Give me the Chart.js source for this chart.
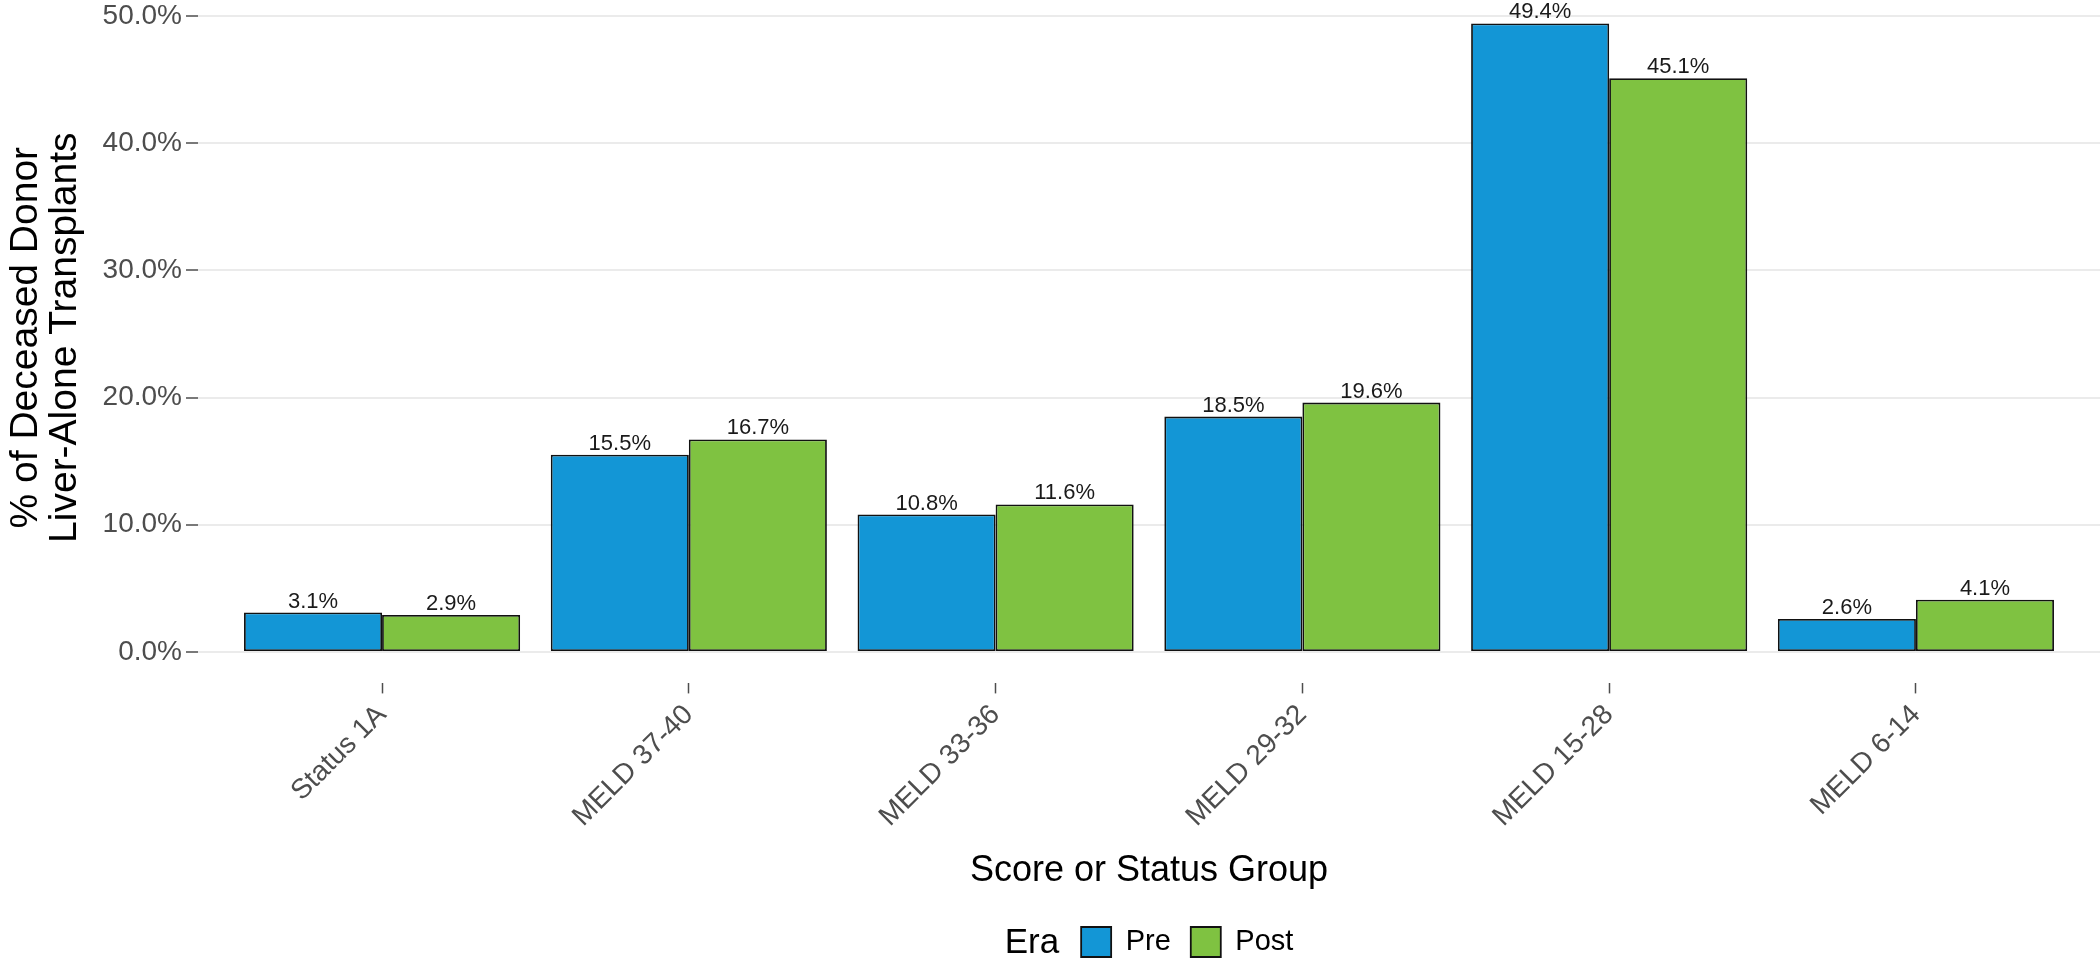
<!DOCTYPE html>
<html>
<head>
<meta charset="utf-8">
<script src="https://cdn.jsdelivr.net/npm/chart.js@4.4.1/dist/chart.umd.min.js"></script>
<style>
  html, body { margin: 0; padding: 0; background: #fff; }
  .wrap { width: 2100px; height: 965px; overflow: hidden; position: relative; }
  #chart { position: absolute; left: 0; top: -35px; }
</style>
</head>
<body>
<div class="wrap"><canvas id="chart" width="2100" height="1010"></canvas></div>
<script>
const categories = ["Status 1A", "MELD 37-40", "MELD 33-36", "MELD 29-32", "MELD 15-28", "MELD 6-14"];
const preValues = [3.1, 15.5, 10.8, 18.5, 49.4, 2.6];
const postValues = [2.9, 16.7, 11.6, 19.6, 45.1, 4.1];
const yTicks = [0, 10, 20, 30, 40, 50];
const seriesNames = ["Pre", "Post"];
const legendTitle = "Era";

const FONT = '"Liberation Sans", Arial, sans-serif';
Chart.defaults.font.family = FONT;

// value labels above each bar
const barLabels = {
  id: "barLabels",
  afterDatasetsDraw(chart) {
    const ctx = chart.ctx;
    ctx.save();
    ctx.font = "22px " + FONT;
    ctx.fillStyle = "#1a1a1a";
    ctx.textAlign = "center";
    ctx.textBaseline = "alphabetic";
    chart.data.datasets.forEach((ds, di) => {
      chart.getDatasetMeta(di).data.forEach((bar, i) => {
        ctx.fillText(ds.data[i].y.toFixed(1) + "%", bar.x, bar.y - 5);
      });
    });
    ctx.restore();
  }
};

// "Era" title drawn inline to the left of the legend items
const eraTitle = {
  id: "eraTitle",
  afterLayout(chart) {
    const ctx = chart.ctx;
    ctx.save();
    ctx.font = "35px " + FONT;
    const w = ctx.measureText(legendTitle).width;
    ctx.restore();
    const shift = (w + 22) / 2;
    chart.legend.left += shift;
    chart.legend.right += shift;
  },
  afterDraw(chart) {
    const box = chart.legend.legendHitBoxes[0];
    if (!box) return;
    const ctx = chart.ctx;
    ctx.save();
    ctx.font = "35px " + FONT;
    ctx.fillStyle = "#000";
    ctx.textAlign = "right";
    ctx.textBaseline = "middle";
    ctx.fillText(legendTitle, box.left - 22, box.top + box.height / 2 + 1);
    ctx.restore();
  }
};

new Chart(document.getElementById("chart"), {
  type: "bar",
  data: {
    datasets: [
      {
        label: seriesNames[0],
        data: categories.map((c, i) => ({ x: i, y: preValues[i] })),
        backgroundColor: "#1396d6",
        borderColor: "#111",
        borderWidth: 1.8,
        borderSkipped: false
      },
      {
        label: seriesNames[1],
        data: categories.map((c, i) => ({ x: i, y: postValues[i] })),
        backgroundColor: "#7fc241",
        borderColor: "#111",
        borderWidth: 1.8,
        borderSkipped: false
      }
    ]
  },
  options: {
    responsive: false,
    animation: false,
    categoryPercentage: 0.9,
    barPercentage: 1.0,
    layout: { padding: { top: 27, right: 0, bottom: 8, left: 0 } },
    plugins: {
      tooltip: { enabled: false },
      legend: {
        position: "bottom",
        fullSize: false,
        labels: {
          boxWidth: 30,
          boxHeight: 30,
          padding: 20,
          color: "#000",
          font: { size: 29 }
        }
      }
    },
    scales: {
      x: {
        type: "linear",
        min: -0.6,
        max: 5.6,
        offset: false,
        afterBuildTicks(scale) {
          scale.ticks = categories.map((c, i) => ({ value: i }));
        },
        afterFit(scale) {
          scale.height = 223.6;
        },
        ticks: {
          callback: (v) => categories[v],
          minRotation: 45,
          maxRotation: 45,
          padding: 5,
          color: "#4d4d4d",
          font: { size: 28 }
        },
        grid: {
          offset: false,
          drawOnChartArea: false,
          drawTicks: true,
          tickLength: 10,
          tickColor: "#4d4d4d",
          tickWidth: 1.5
        },
        border: { display: false },
        title: {
          display: true,
          text: "Score or Status Group",
          color: "#000",
          font: { size: 36 },
          padding: { top: 0, bottom: 14 }
        }
      },
      y: {
        min: -2.47,
        max: 51.87,
        afterBuildTicks(scale) {
          scale.ticks = yTicks.map((v) => ({ value: v }));
        },
        afterFit(scale) {
          scale.width = 198;
        },
        ticks: {
          callback: (v) => v.toFixed(1) + "%",
          padding: 4,
          color: "#4d4d4d",
          font: { size: 28 }
        },
        grid: {
          color: "#ebebeb",
          lineWidth: 2,
          drawTicks: true,
          tickLength: 12,
          tickColor: "#4d4d4d",
          tickWidth: 1.5
        },
        border: { display: false },
        title: {
          display: true,
          text: ["% of Deceased Donor", "Liver-Alone Transplants"],
          color: "#000",
          font: { size: 39, lineHeight: 1.0 },
          padding: { top: 7, bottom: 0 }
        }
      }
    }
  },
  plugins: [barLabels, eraTitle]
});
</script>
</body>
</html>
